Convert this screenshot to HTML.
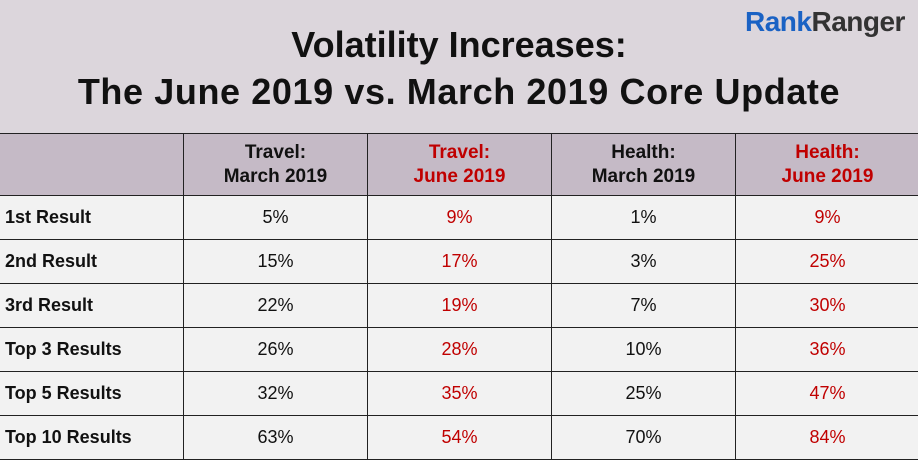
<!DOCTYPE html>
<html><head><style>
body{margin:0;width:918px;height:459px;overflow:hidden;background:#f2f2f2;font-family:"Liberation Sans",sans-serif}
.hd{position:absolute;left:0;top:0;width:918px;height:134px;background:#dcd6dc}
.t{position:absolute;left:0;width:918px;text-align:center;font-weight:bold;font-size:36px;color:#111}
.logo{position:absolute;left:745px;top:6px;font-weight:bold;font-size:28px;letter-spacing:-0.5px}
table{position:absolute;left:0;top:133px;border-collapse:collapse;width:920px}
td{border:1.5px solid #222;height:43px;text-align:center;font-size:18px;color:#111;padding:0}
tr.h td{background:#c5bac6;height:61px;font-weight:bold;font-size:19px;line-height:24px}
td.l{text-align:left;font-weight:bold;padding-left:5px;font-size:18px}
.r{color:#c00000}
td:first-child{border-left:none}
</style></head><body>
<div class="hd"></div>
<div class="logo"><span style="color:#1a62c4">Rank</span><span style="color:#333">Ranger</span></div>
<div class="t" style="top:24px">Volatility Increases:</div>
<div class="t" style="top:71px;letter-spacing:0.6px">The June 2019 vs. March 2019 Core Update</div>
<table>
<tr class="h"><td style="width:183px"></td><td style="width:183px">Travel:<br>March 2019</td><td class="r" style="width:183px">Travel:<br>June 2019</td><td style="width:183px">Health:<br>March 2019</td><td class="r">Health:<br>June 2019</td></tr>
<tr><td class="l">1st Result</td><td>5%</td><td class="r">9%</td><td>1%</td><td class="r">9%</td></tr>
<tr><td class="l">2nd Result</td><td>15%</td><td class="r">17%</td><td>3%</td><td class="r">25%</td></tr>
<tr><td class="l">3rd Result</td><td>22%</td><td class="r">19%</td><td>7%</td><td class="r">30%</td></tr>
<tr><td class="l">Top 3 Results</td><td>26%</td><td class="r">28%</td><td>10%</td><td class="r">36%</td></tr>
<tr><td class="l">Top 5 Results</td><td>32%</td><td class="r">35%</td><td>25%</td><td class="r">47%</td></tr>
<tr><td class="l">Top 10 Results</td><td>63%</td><td class="r">54%</td><td>70%</td><td class="r">84%</td></tr>
</table>
</body></html>
